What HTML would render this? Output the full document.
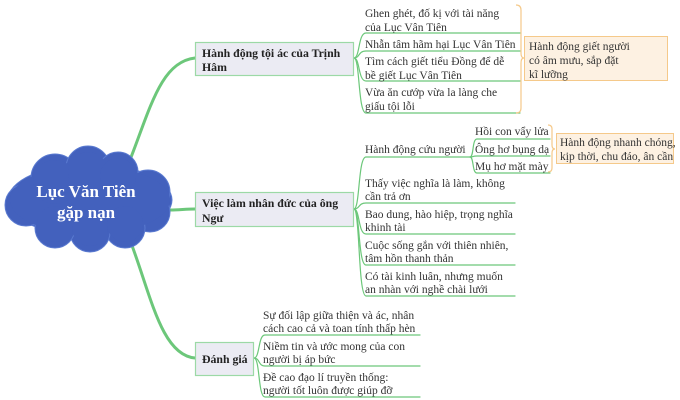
<!DOCTYPE html>
<html><head><meta charset="utf-8"><style>
html,body{margin:0;padding:0;background:#fff;}
svg{display:block}
text{font-family:"Liberation Serif","DejaVu Serif",serif;font-size:11.5px;fill:#333;}
.b{font-weight:bold;fill:#222;font-size:11.8px}
</style></head><body>
<svg width="680" height="400" viewBox="0 0 680 400" xmlns="http://www.w3.org/2000/svg">
<g fill="none" stroke="#6cc77a" stroke-linecap="round">
<path d="M128 165 C150 110,160 62,195 58" stroke-width="3"/>
<path d="M170 210 C180 210,185 209,195 209" stroke-width="3"/>
<path d="M128 235 C150 290,160 355,195 358" stroke-width="3"/>
<g stroke-width="1.2">
<path d="M354 58 C360 58,358 33,366 33 L520 33"/>
<path d="M354 58 C360 58,358 51,366 51 L520 51"/>
<path d="M354 58 C360 58,358 81,366 81 L520 81"/>
<path d="M354 58 C360 58,358 113,366 113 L520 113"/>
<path d="M354 209 C360 209,358 157,366 157 L470 157"/>
<path d="M354 209 C360 209,358 203,366 203 L515 203"/>
<path d="M354 209 C360 209,358 234,366 234 L515 234"/>
<path d="M354 209 C360 209,358 265,366 265 L515 265"/>
<path d="M354 209 C360 209,358 296,366 296 L515 296"/>
<path d="M254 358 C260 358,258 335,265 335 L420 335"/>
<path d="M254 358 C260 358,258 366,265 366 L420 366"/>
<path d="M254 358 C260 358,258 397,265 397 L420 397"/>
<path d="M470 157 C474 157,472 139,477 139 L550 139"/>
<path d="M470 157 C474 157,472 156,477 156 L550 156"/>
<path d="M470 157 C474 157,472 173,477 173 L550 173"/>
</g></g>
<g fill="none" stroke="#f5c98a" stroke-width="1.2">
<path d="M516 5 Q521 5,521 10 L521 53 Q521 58,524 58 Q521 58,521 63 L521 108 Q521 113,516 113"/>
<path d="M548 125 Q552 125,552 129 L552 145 Q552 149,555 149 Q552 149,552 153 L552 168 Q552 172,548 172"/>
</g>
<rect x="524.5" y="36.5" width="143" height="44" fill="#fdf1e2" stroke="#f5c98a"/>
<rect x="556.5" y="133.5" width="117" height="30" fill="#fdf1e2" stroke="#f5c98a"/>
<g fill="#ebebf3" stroke="#9cd9a6" stroke-width="1.2">
<rect x="195.5" y="42.5" width="158" height="33"/>
<rect x="195.5" y="192.5" width="158" height="34"/>
<rect x="195.5" y="342.5" width="58" height="33"/>
</g>
<g fill="#4361bd" stroke="#5a7ad0" stroke-width="1">
<ellipse cx="90" cy="200" rx="82" ry="36"/>
<circle cx="55" cy="178" r="24"/><circle cx="88" cy="168" r="22"/><circle cx="118" cy="172" r="20"/>
<circle cx="148" cy="192" r="22"/><circle cx="150" cy="212" r="20"/><circle cx="125" cy="228" r="20"/>
<circle cx="90" cy="232" r="20"/><circle cx="55" cy="228" r="20"/><circle cx="26" cy="205" r="21"/>
</g>
<g fill="#4361bd"><ellipse cx="90" cy="200" rx="80" ry="34"/><circle cx="55" cy="182" r="22"/><circle cx="88" cy="172" r="20"/><circle cx="118" cy="176" r="18"/><circle cx="90" cy="228" r="18"/><circle cx="55" cy="224" r="18"/><circle cx="125" cy="224" r="18"/></g>
<text x="86" y="197" text-anchor="middle" style="fill:#fff;font-weight:bold;font-size:17px">Lục Văn Tiên</text>
<text x="86" y="218" text-anchor="middle" style="fill:#fff;font-weight:bold;font-size:17px">gặp nạn</text>
<text class="b" x="202" y="57">Hành động tội ác của Trịnh</text>
<text class="b" x="202" y="71">Hâm</text>
<text class="b" x="202" y="207">Việc làm nhân đức của ông</text>
<text class="b" x="202" y="222">Ngư</text>
<text class="b" x="202" y="363">Đánh giá</text>
<text x="365" y="17">Ghen ghét, đố kị với tài năng</text>
<text x="365" y="31">của Lục Vân Tiên</text>
<text x="365" y="48">Nhẫn tâm hãm hại Lục Vân Tiên</text>
<text x="365" y="65">Tìm cách giết tiểu Đồng để dễ</text>
<text x="365" y="79">bề giết Lục Vân Tiên</text>
<text x="365" y="96">Vừa ăn cướp vừa la làng che</text>
<text x="365" y="110">giấu tội lỗi</text>
<text x="529" y="50">Hành động giết người</text>
<text x="529" y="64">có âm mưu, sắp đặt</text>
<text x="529" y="78">kĩ lưỡng</text>
<text x="365" y="153">Hành động cứu người</text>
<text x="475" y="135">Hồi con vẩy lửa</text>
<text x="475" y="153">Ông hơ bụng dạ</text>
<text x="475" y="170">Mụ hơ mặt mày</text>
<text x="560" y="146">Hành động nhanh chóng,</text>
<text x="560" y="160">kịp thời, chu đáo, ân cần</text>
<text x="365" y="187">Thấy việc nghĩa là làm, không</text>
<text x="365" y="200">cần trả ơn</text>
<text x="365" y="218">Bao dung, hào hiệp, trọng nghĩa</text>
<text x="365" y="231">khinh tài</text>
<text x="365" y="249">Cuộc sống gắn với thiên nhiên,</text>
<text x="365" y="262">tâm hồn thanh thản</text>
<text x="365" y="280">Có tài kinh luân, nhưng muốn</text>
<text x="365" y="293">an nhàn với nghề chài lưới</text>
<text x="263" y="319">Sự đối lập giữa thiện và ác, nhân</text>
<text x="263" y="332">cách cao cả và toan tính thấp hèn</text>
<text x="263" y="350">Niềm tin và ước mong của con</text>
<text x="263" y="363">người bị áp bức</text>
<text x="263" y="381">Đề cao đạo lí truyền thống:</text>
<text x="263" y="394">người tốt luôn được giúp đỡ</text>
</svg>
</body></html>
